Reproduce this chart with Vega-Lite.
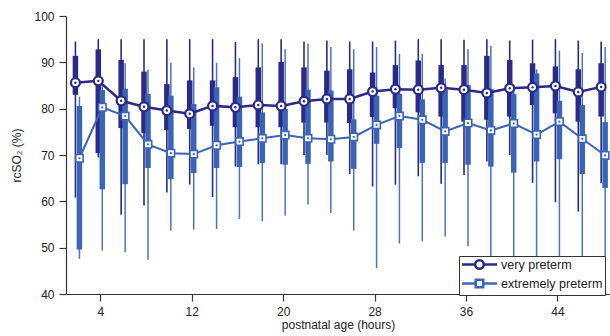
{
  "$schema": "https://vega.github.io/schema/vega-lite/v6.json",
  "width": 544,
  "height": 278,
  "autosize": "none",
  "padding": {"left": 66, "top": 16, "right": 0, "bottom": 42},
  "config": {
    "view": {"stroke": null},
    "font": "Liberation Sans",
    "axis": {
      "domainColor": "#333", "tickColor": "#333", "labelColor": "#222", "titleColor": "#222",
      "labelFontSize": 12, "titleFontSize": 12, "titleFontWeight": "normal",
      "grid": false, "tickSize": 7, "domainWidth": 1.2, "tickWidth": 1.2,
      "labelFont": "Liberation Sans", "titleFont": "Liberation Sans"
    }
  },
  "data": {
    "values": [
      {"group": "very preterm", "hour": 2, "lo": 60.8, "q1": 83.0, "med": 85.6, "q3": 91.4, "hi": 94.5},
      {"group": "very preterm", "hour": 4, "lo": 69.5, "q1": 70.4, "med": 86.0, "q3": 92.8, "hi": 95.0},
      {"group": "very preterm", "hour": 6, "lo": 57.1, "q1": 75.8, "med": 81.7, "q3": 90.5, "hi": 95.0},
      {"group": "very preterm", "hour": 8, "lo": 59.1, "q1": 74.7, "med": 80.4, "q3": 88.0, "hi": 95.0},
      {"group": "very preterm", "hour": 10, "lo": 61.9, "q1": 75.4, "med": 79.6, "q3": 85.3, "hi": 95.0},
      {"group": "very preterm", "hour": 12, "lo": 63.6, "q1": 75.6, "med": 78.9, "q3": 86.1, "hi": 95.0},
      {"group": "very preterm", "hour": 14, "lo": 60.9, "q1": 76.3, "med": 80.6, "q3": 86.1, "hi": 95.0},
      {"group": "very preterm", "hour": 16, "lo": 67.5, "q1": 76.0, "med": 80.3, "q3": 86.8, "hi": 94.4},
      {"group": "very preterm", "hour": 18, "lo": 68.0, "q1": 76.0, "med": 80.8, "q3": 88.9, "hi": 95.0},
      {"group": "very preterm", "hour": 20, "lo": 68.0, "q1": 76.0, "med": 80.6, "q3": 90.1, "hi": 95.0},
      {"group": "very preterm", "hour": 22, "lo": 70.0, "q1": 77.0, "med": 81.6, "q3": 88.9, "hi": 94.5},
      {"group": "very preterm", "hour": 24, "lo": 70.0, "q1": 77.0, "med": 82.1, "q3": 88.2, "hi": 94.7},
      {"group": "very preterm", "hour": 26, "lo": 65.9, "q1": 76.9, "med": 82.1, "q3": 88.5, "hi": 94.5},
      {"group": "very preterm", "hour": 28, "lo": 63.2, "q1": 78.2, "med": 83.7, "q3": 87.8, "hi": 94.5},
      {"group": "very preterm", "hour": 30, "lo": 63.6, "q1": 80.1, "med": 84.2, "q3": 89.4, "hi": 94.7},
      {"group": "very preterm", "hour": 32, "lo": 65.4, "q1": 79.2, "med": 84.1, "q3": 90.4, "hi": 95.0},
      {"group": "very preterm", "hour": 34, "lo": 63.8, "q1": 78.3, "med": 84.5, "q3": 89.4, "hi": 95.0},
      {"group": "very preterm", "hour": 36, "lo": 65.7, "q1": 77.2, "med": 84.1, "q3": 89.4, "hi": 94.9},
      {"group": "very preterm", "hour": 38, "lo": 68.6, "q1": 77.6, "med": 83.4, "q3": 91.4, "hi": 95.0},
      {"group": "very preterm", "hour": 40, "lo": 70.0, "q1": 78.3, "med": 84.4, "q3": 90.5, "hi": 94.7},
      {"group": "very preterm", "hour": 42, "lo": 64.0, "q1": 80.8, "med": 84.6, "q3": 89.8, "hi": 94.9},
      {"group": "very preterm", "hour": 44, "lo": 59.8, "q1": 79.0, "med": 84.9, "q3": 89.1, "hi": 95.0},
      {"group": "very preterm", "hour": 46, "lo": 57.8, "q1": 77.2, "med": 83.6, "q3": 88.5, "hi": 94.7},
      {"group": "very preterm", "hour": 48, "lo": 63.9, "q1": 78.3, "med": 84.7, "q3": 89.8, "hi": 94.5},
      {"group": "extremely preterm", "hour": 2, "lo": 47.6, "q1": 49.6, "med": 69.3, "q3": 80.6, "hi": 82.6},
      {"group": "extremely preterm", "hour": 4, "lo": 49.4, "q1": 62.6, "med": 80.3, "q3": 84.0, "hi": 86.0},
      {"group": "extremely preterm", "hour": 6, "lo": 49.0, "q1": 63.7, "med": 78.4, "q3": 84.3, "hi": 89.8},
      {"group": "extremely preterm", "hour": 8, "lo": 47.4, "q1": 67.2, "med": 72.3, "q3": 83.2, "hi": 88.4},
      {"group": "extremely preterm", "hour": 10, "lo": 53.7, "q1": 64.8, "med": 70.4, "q3": 82.8, "hi": 89.9},
      {"group": "extremely preterm", "hour": 12, "lo": 53.9, "q1": 66.1, "med": 70.2, "q3": 81.0, "hi": 88.9},
      {"group": "extremely preterm", "hour": 14, "lo": 54.0, "q1": 67.2, "med": 72.1, "q3": 84.6, "hi": 89.9},
      {"group": "extremely preterm", "hour": 16, "lo": 56.2, "q1": 67.4, "med": 72.9, "q3": 82.6, "hi": 90.9},
      {"group": "extremely preterm", "hour": 18, "lo": 55.7, "q1": 68.3, "med": 73.6, "q3": 79.2, "hi": 94.1},
      {"group": "extremely preterm", "hour": 20, "lo": 56.9, "q1": 67.9, "med": 74.3, "q3": 79.9, "hi": 92.8},
      {"group": "extremely preterm", "hour": 22, "lo": 59.3, "q1": 68.1, "med": 73.6, "q3": 84.1, "hi": 94.0},
      {"group": "extremely preterm", "hour": 24, "lo": 57.5, "q1": 68.6, "med": 73.4, "q3": 83.9, "hi": 93.3},
      {"group": "extremely preterm", "hour": 26, "lo": 53.7, "q1": 67.0, "med": 73.9, "q3": 77.7, "hi": 92.8},
      {"group": "extremely preterm", "hour": 28, "lo": 45.6, "q1": 72.4, "med": 76.5, "q3": 82.8, "hi": 93.3},
      {"group": "extremely preterm", "hour": 30, "lo": 50.9, "q1": 71.5, "med": 78.4, "q3": 83.2, "hi": 91.8},
      {"group": "extremely preterm", "hour": 32, "lo": 51.4, "q1": 68.3, "med": 77.6, "q3": 82.0, "hi": 91.8},
      {"group": "extremely preterm", "hour": 34, "lo": 52.4, "q1": 68.3, "med": 75.1, "q3": 84.1, "hi": 86.5},
      {"group": "extremely preterm", "hour": 36, "lo": 50.3, "q1": 67.9, "med": 76.9, "q3": 85.1, "hi": 92.8},
      {"group": "extremely preterm", "hour": 38, "lo": 44.0, "q1": 67.5, "med": 75.3, "q3": 84.2, "hi": 93.5},
      {"group": "extremely preterm", "hour": 40, "lo": 44.0, "q1": 66.2, "med": 76.8, "q3": 83.2, "hi": 85.0},
      {"group": "extremely preterm", "hour": 42, "lo": 44.0, "q1": 68.6, "med": 74.4, "q3": 87.6, "hi": 88.5},
      {"group": "extremely preterm", "hour": 44, "lo": 44.0, "q1": 69.1, "med": 77.2, "q3": 81.7, "hi": 92.5},
      {"group": "extremely preterm", "hour": 46, "lo": 44.0, "q1": 65.9, "med": 73.5, "q3": 80.8, "hi": 92.0},
      {"group": "extremely preterm", "hour": 48, "lo": 44.0, "q1": 62.9, "med": 69.9, "q3": 77.1, "hi": 93.3}
    ]
  },
  "encoding": {
    "x": {
      "field": "hour", "type": "quantitative",
      "scale": {"domain": [1, 48.6], "nice": false, "zero": false},
      "axis": {"values": [4, 12, 20, 28, 36, 44], "title": "postnatal age (hours)", "labelPadding": 5, "titlePadding": 2}
    }
  },
  "layer": [
    {
      "transform": [{"filter": "datum.group === 'very preterm'"}],
      "mark": {"type": "rule", "color": "#2B2A86", "strokeWidth": 1.6, "xOffset": -2},
      "encoding": {
        "y": {"field": "lo", "type": "quantitative", "title": "rcSO₂ (%)",
              "scale": {"domain": [40, 100], "nice": false, "zero": false},
              "axis": {"values": [40, 50, 60, 70, 80, 90, 100], "labelPadding": 5, "titlePadding": 10}},
        "y2": {"field": "hi"}
      }
    },
    {
      "transform": [{"filter": "datum.group === 'very preterm'"}],
      "mark": {"type": "rule", "color": "#2B2A86", "strokeWidth": 5.5, "strokeCap": "butt", "xOffset": -2},
      "encoding": {
        "y": {"field": "q1", "type": "quantitative", "title": "rcSO₂ (%)"},
        "y2": {"field": "q3"}
      }
    },
    {
      "transform": [{"filter": "datum.group === 'extremely preterm'"}],
      "mark": {"type": "rule", "color": "#4A72C6", "strokeWidth": 1.5, "xOffset": 2},
      "encoding": {
        "y": {"field": "lo", "type": "quantitative", "title": "rcSO₂ (%)"},
        "y2": {"field": "hi"}
      }
    },
    {
      "transform": [{"filter": "datum.group === 'extremely preterm'"}],
      "mark": {"type": "rule", "color": "#3A64B6", "strokeWidth": 5.5, "strokeCap": "butt", "xOffset": 2},
      "encoding": {
        "y": {"field": "q1", "type": "quantitative", "title": "rcSO₂ (%)"},
        "y2": {"field": "q3"}
      }
    },
    {
      "transform": [{"filter": "datum.group === 'extremely preterm'"}],
      "mark": {"type": "line", "color": "#3A64B6", "strokeWidth": 2, "xOffset": 2},
      "encoding": {"y": {"field": "med", "type": "quantitative", "title": "rcSO₂ (%)"}}
    },
    {
      "transform": [{"filter": "datum.group === 'very preterm'"}],
      "mark": {"type": "line", "color": "#2B2A86", "strokeWidth": 2.5, "xOffset": -2},
      "encoding": {"y": {"field": "med", "type": "quantitative", "title": "rcSO₂ (%)"}}
    },
    {
      "transform": [{"filter": "datum.group === 'extremely preterm'"}],
      "mark": {"type": "point", "shape": "square", "size": 55, "filled": true, "fill": "white", "stroke": "#3A64B6", "strokeWidth": 1.6, "opacity": 1, "xOffset": 2},
      "encoding": {"y": {"field": "med", "type": "quantitative", "title": "rcSO₂ (%)"}}
    },
    {
      "transform": [{"filter": "datum.group === 'extremely preterm'"}],
      "mark": {"type": "point", "shape": "circle", "size": 5, "filled": true, "color": "#3A64B6", "opacity": 1, "xOffset": 2},
      "encoding": {"y": {"field": "med", "type": "quantitative", "title": "rcSO₂ (%)"}}
    },
    {
      "transform": [{"filter": "datum.group === 'very preterm'"}],
      "mark": {"type": "point", "shape": "circle", "size": 80, "filled": true, "fill": "white", "stroke": "#2B2A86", "strokeWidth": 2.2, "opacity": 1, "xOffset": -2},
      "encoding": {"y": {"field": "med", "type": "quantitative", "title": "rcSO₂ (%)"}}
    },
    {
      "transform": [{"filter": "datum.group === 'very preterm'"}],
      "mark": {"type": "point", "shape": "circle", "size": 6, "filled": true, "color": "#2B2A86", "opacity": 1, "xOffset": -2},
      "encoding": {"y": {"field": "med", "type": "quantitative", "title": "rcSO₂ (%)"}}
    },
    {
      "mark": {"type": "point", "filled": false, "opacity": 0},
      "encoding": {
        "y": {"field": "med", "type": "quantitative", "title": "rcSO₂ (%)"},
        "color": {
          "field": "group", "type": "nominal",
          "scale": {"domain": ["very preterm", "extremely preterm"], "range": ["#2B2A86", "#3A64B6"]},
          "legend": {
            "title": null, "orient": "none", "legendX": 393, "legendY": 240,
            "strokeColor": "#333", "fillColor": "white", "padding": 2,
            "symbolSize": 100, "symbolStrokeWidth": 2.5, "symbolFillColor": "white", "symbolOpacity": 1,
            "symbolOffset": 12, "labelOffset": 15, "rowPadding": 0,
            "labelFontSize": 12.6, "labelColor": "#222", "labelFont": "Liberation Sans"
          }
        },
        "shape": {
          "field": "group", "type": "nominal",
          "scale": {"domain": ["very preterm", "extremely preterm"],
                    "range": ["M-3.5,0H-0.85M0.85,0H3.5M0.85,0A0.85,0.85,0,1,1,-0.85,0A0.85,0.85,0,1,1,0.85,0Z",
                              "M-3.5,0H-0.75M0.75,0H3.5M-0.75,-0.75H0.75V0.75H-0.75Z"]},
          "legend": {
            "title": null, "orient": "none", "legendX": 393, "legendY": 240,
            "strokeColor": "#333", "fillColor": "white", "padding": 2,
            "symbolSize": 100, "symbolStrokeWidth": 2.5, "symbolFillColor": "white", "symbolOpacity": 1,
            "symbolOffset": 12, "labelOffset": 15, "rowPadding": 0,
            "labelFontSize": 12.6, "labelColor": "#222", "labelFont": "Liberation Sans"
          }
        }
      }
    }
  ]
}
